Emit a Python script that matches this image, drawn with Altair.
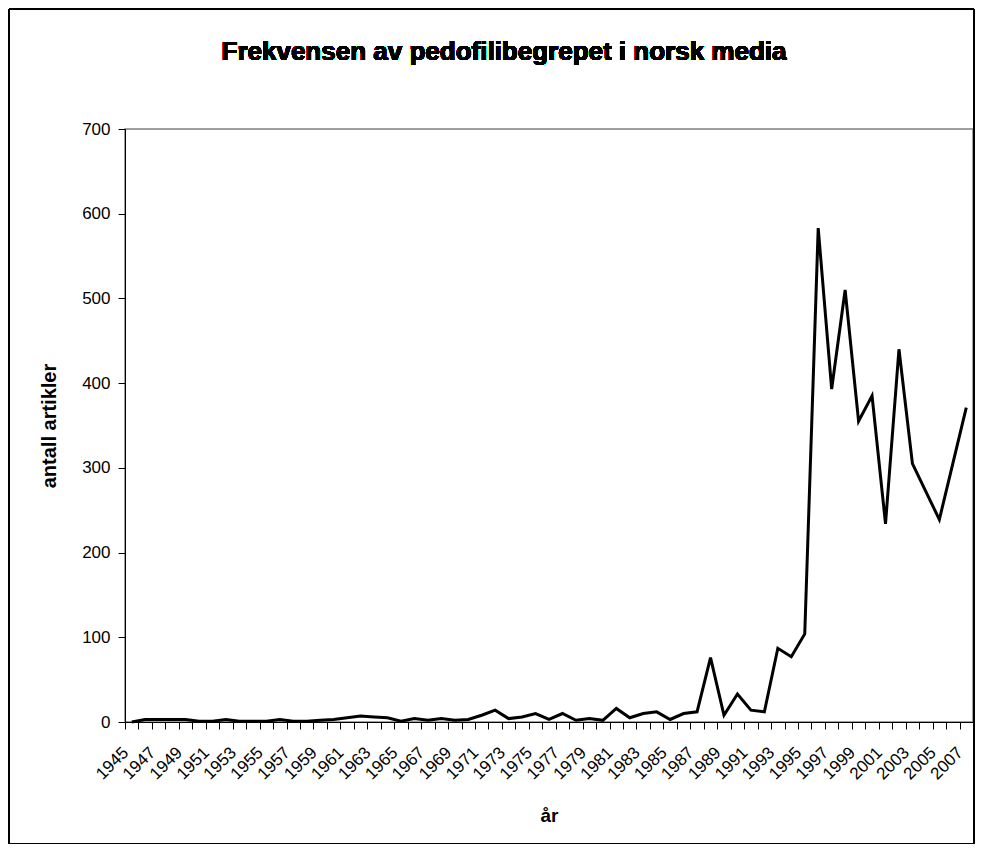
import altair as alt
import pandas as pd

years = list(range(1945, 2008))
counts = [
    0, 3, 3, 3, 3, 1, 1, 3, 1, 1, 1, 3, 1, 1, 2, 3, 5, 7, 6, 5, 1,
    4, 2, 4, 2, 3, 8, 14, 4, 6, 10, 3, 10, 2, 4, 2, 16, 5, 10, 12, 3, 10, 12,
    76, 8, 33, 14, 12, 87, 77, 104, 583, 393, 510, 355, 385, 234, 440, 305, 272, 239, 305, 371,
]
y_ticks = [0, 100, 200, 300, 400, 500, 600, 700]
chart_title = "Frekvensen av pedofilibegrepet i norsk media"
x_title = "år"
y_title = "antall artikler"

df = pd.DataFrame({"year": years, "count": counts})

FONT = "Liberation Sans"
W, H = 848, 593

line = alt.Chart(df).mark_line(color="black", strokeWidth=3).encode(
    x=alt.X(
        "year:O",
        scale=alt.Scale(type="band", paddingInner=0, paddingOuter=0),
        axis=alt.Axis(
            title=x_title,
            tickBand="extent",
            labelExpr="datum.value % 2 == 1 ? datum.label : ''",
            labelAngle=-45,
            labelAlign="right",
            labelBaseline="top",
            labelOverlap=False,
            labelFont=FONT,
            labelFontSize=17,
            labelColor="black",
            labelPadding=15,
            labelOffset=-12,
            tickSize=7,
            tickColor="black",
            domainColor="black",
            titleFont=FONT,
            titleFontSize=19,
            titleFontWeight="bold",
            titleColor="black",
            titlePadding=24,
        ),
    ),
    y=alt.Y(
        "count:Q",
        scale=alt.Scale(domain=[0, 700], nice=False),
        axis=alt.Axis(
            title=y_title,
            values=y_ticks,
            grid=False,
            labelFont=FONT,
            labelFontSize=17,
            labelColor="black",
            labelPadding=8,
            tickSize=7,
            tickColor="black",
            domainColor="black",
            titleFont=FONT,
            titleFontSize=20,
            titleFontWeight="bold",
            titleColor="black",
            titlePadding=22,
        ),
    ),
)

title_mark = alt.Chart(df).mark_text(
    text=chart_title, font=FONT, fontSize=26, fontWeight="bold", color="black",
    align="center", baseline="middle",
).encode(x=alt.value(379), y=alt.value(-77))

frame = alt.Chart(df).mark_rect(fill=None, stroke="black", strokeWidth=1).encode(
    x=alt.value(-116), x2=alt.value(W + 1), y=alt.value(-120), y2=alt.value(714.5)
)

chart = (
    alt.layer(frame, title_mark, line)
    .properties(
        width=W,
        height=H,
        autosize=alt.AutoSizeParams(type="none"),
        padding={"left": 117, "top": 121, "right": 2, "bottom": 122},
    )
    .configure_view(stroke="#808080", strokeWidth=1.5)
)

chart.save("out.html", embed_options={"renderer": "svg", "actions": False})
